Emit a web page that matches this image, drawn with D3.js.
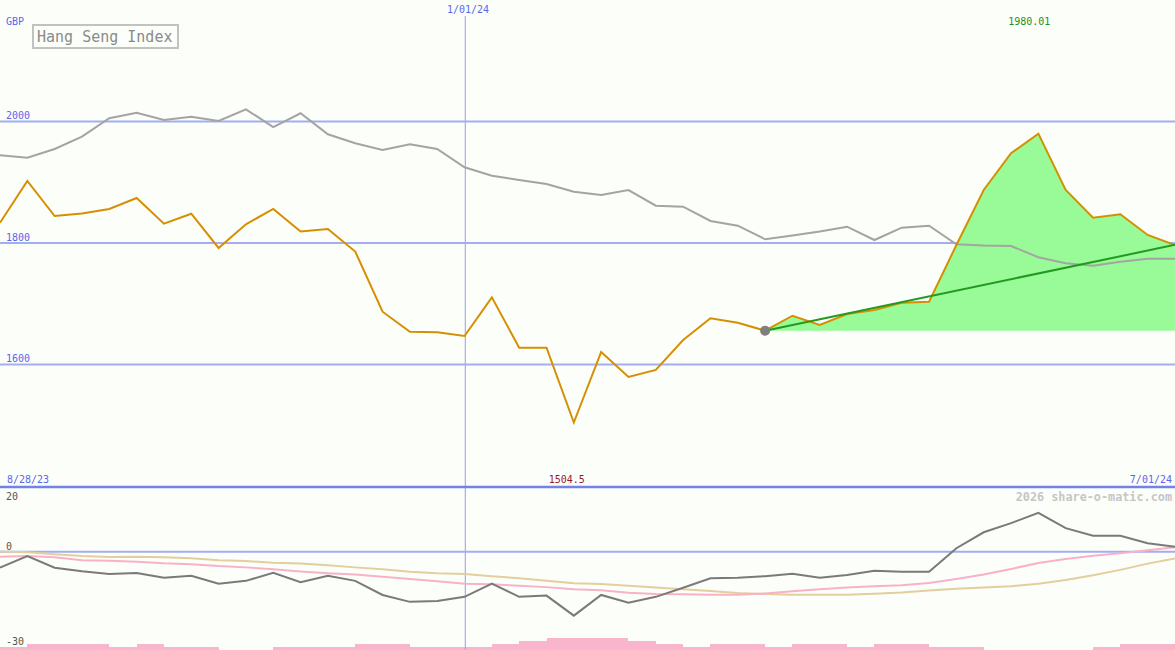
<!DOCTYPE html>
<html>
<head>
<meta charset="utf-8">
<script src="https://cdn.jsdelivr.net/npm/d3@7/dist/d3.min.js"></script>
<style>
  html, body { margin: 0; padding: 0; background: #fcfefa; }
  svg { display: block; }
  text { font-family: "DejaVu Sans Mono", "Liberation Mono", monospace; }
</style>
</head>
<body>
<svg id="chart" width="1175" height="650"></svg>
<script>
// ---------------- DATA ----------------
const title = "Hang Seng Index";
const currency = "GBP";
const dateLabels = [
  { i: 0, label: "8/28/23" },
  { i: 17, label: "1/01/24" },
  { i: 43, label: "7/01/24" }
];
const priceTicks = [1600, 1800, 2000];
const oscTickLabels = [20, 0, -30];
const copyright = "2026 share-o-matic.com";

// weekly closing price (orange)
const price = [1833.4,1902.1,1844.4,1848.6,1856,1874.1,1831.8,1848.2,1791.8,1830.8,
  1856,1818.9,1823,1786,1686.9,1654,1653,1646.9,1710.6,1627.7,
  1627.7,1504.5,1620.6,1579.4,1591,1640.3,1676,1668.8,1655.6,1680.3,
  1665,1683.1,1689.7,1701.7,1703.4,1796.7,1887.2,1947.7,1980.01,1887.2,
  1841.6,1847.2,1813.2,1796.7];

// comparison index, rebased (gray)
const benchmark = [1944.4,1940.4,1954.7,1975,2005.3,2014.5,2002.5,2007.9,2000.8,2020.1,
  1990.9,2013.5,1978.9,1964.1,1953.1,1962.5,1954.7,1924.6,1910.8,1903.7,
  1897.1,1884.4,1879,1887.2,1861.4,1859.8,1836.2,1828.5,1806.1,1812.3,
  1818.9,1826.8,1804.9,1825.2,1828.5,1797.9,1795.9,1795.1,1776.5,1766.6,
  1762.6,1769.2,1774.2,1774.2];

// trend segment (start index/value, end index/value)
const trendStartIndex = 28;
const trendEndIndex = 43;
const trendEndValue = 1797;

// lower panel: momentum (dark gray), fast MA (pink), slow MA (tan)
const momentum = [-5.1,-1.4,-5.1,-6.2,-7.1,-6.8,-8.3,-7.7,-10.2,-9.3,
  -6.7,-9.7,-7.7,-9.3,-13.8,-16.0,-15.7,-14.4,-10.2,-14.4,
  -14.0,-20.4,-13.8,-16.3,-14.4,-11.5,-8.5,-8.3,-7.8,-7.0,
  -8.3,-7.4,-6.1,-6.4,-6.4,1.1,6.2,9.1,12.4,7.5,
  5.1,5.1,2.7,1.6];
const fastMA = [-1.6,-1.4,-1.8,-2.7,-2.9,-3.2,-3.7,-4.0,-4.6,-5.0,
  -5.6,-6.3,-6.9,-7.3,-8.0,-8.7,-9.4,-10.2,-10.4,-10.9,
  -11.3,-12.0,-12.3,-13.1,-13.5,-13.6,-13.7,-13.7,-13.3,-12.6,
  -12.0,-11.4,-11.0,-10.7,-10.0,-8.7,-7.3,-5.5,-3.6,-2.3,
  -1.3,-0.5,0.5,1.4];
const slowMA = [0.1,-0.2,-0.8,-1.4,-1.7,-1.6,-1.8,-2.1,-2.7,-3.0,
  -3.5,-3.8,-4.3,-5.0,-5.6,-6.4,-6.9,-7.1,-7.8,-8.5,
  -9.3,-10.1,-10.3,-10.9,-11.4,-12.0,-12.5,-13.2,-13.5,-13.7,
  -13.7,-13.7,-13.4,-13.0,-12.4,-11.8,-11.4,-11.0,-10.2,-9.0,
  -7.5,-5.8,-3.8,-2.2];

// volume levels per weekly interval
const volume = [1,2,2,2,1,2,1,1,0,0,1,1,1,2,2,1,1,1,2,3,4,4,4,3,2,1,2,2,1,2,2,1,2,2,1,1,0,0,0,0,1,2,2];

// ---------------- CHART ----------------
const W = 1175, H = 650;
const svg = d3.select("#chart");

const x = d3.scaleLinear().domain([0, price.length - 1]).range([0, W]);
const y = d3.scaleLinear().domain([1600, 2000]).range([364.5, 121.5]);
const y2 = d3.scaleLinear().domain([-30, 20]).range([645.75, 489]);
const yv = d3.scaleLinear().domain([0, 4]).range([650, 638]);

svg.append("rect").attr("width", W).attr("height", H).attr("fill", "#fcfefa");

// volume bars
svg.append("g").selectAll("rect").data(volume).join("rect")
  .attr("x", (d, i) => x(i))
  .attr("width", (d, i) => x(i + 1) - x(i))
  .attr("y", d => yv(d))
  .attr("height", d => yv(0) - yv(d))
  .attr("fill", "#f9b5cb")
  .attr("shape-rendering", "crispEdges");

// horizontal price grid lines
svg.append("g").selectAll("line").data(priceTicks).join("line")
  .attr("x1", 0).attr("x2", W)
  .attr("y1", d => y(d)).attr("y2", d => y(d))
  .attr("stroke", "#a3adf0").attr("stroke-width", 2);

svg.append("g").selectAll("text").data(priceTicks).join("text")
  .attr("x", 6).attr("y", d => y(d) - 2.5)
  .attr("font-size", 10).attr("fill", "#5a66ee")
  .text(d => d);

// vertical date line (1/01/24)
const midDate = dateLabels[1];
svg.append("line")
  .attr("x1", x(midDate.i) + 0.8).attr("x2", x(midDate.i) + 0.8)
  .attr("y1", 16).attr("y2", H)
  .attr("stroke", "#a3adf0").attr("stroke-width", 1.2);

// lower panel zero line
svg.append("line")
  .attr("x1", 0).attr("x2", W)
  .attr("y1", y2(0)).attr("y2", y2(0))
  .attr("stroke", "#a3adf0").attr("stroke-width", 2);

// separator line between panels
svg.append("line")
  .attr("x1", 0).attr("x2", W)
  .attr("y1", 487).attr("y2", 487)
  .attr("stroke", "#7282e6").attr("stroke-width", 2.5);

// green gain area from trend start
const baseVal = price[trendStartIndex];
const areaIdx = d3.range(trendStartIndex, price.length);
svg.append("path")
  .datum(areaIdx)
  .attr("d", d3.area().x(i => x(i)).y0(y(baseVal)).y1(i => y(price[i])))
  .attr("fill", "#98fb98");

// benchmark gray line
svg.append("path")
  .datum(benchmark)
  .attr("d", d3.line().x((d, i) => x(i)).y(d => y(d)))
  .attr("fill", "none").attr("stroke", "#a4a4a4").attr("stroke-width", 2);

// price line
svg.append("path")
  .datum(price)
  .attr("d", d3.line().x((d, i) => x(i)).y(d => y(d)))
  .attr("fill", "none").attr("stroke", "#d68f00").attr("stroke-width", 2);

// trend line
svg.append("line")
  .attr("x1", x(trendStartIndex)).attr("y1", y(baseVal))
  .attr("x2", x(trendEndIndex)).attr("y2", y(trendEndValue))
  .attr("stroke", "#229a22").attr("stroke-width", 2);

// start marker
svg.append("circle")
  .attr("cx", x(trendStartIndex)).attr("cy", y(baseVal))
  .attr("r", 5).attr("fill", "#7f7f7f");

// lower panel lines
const line2 = d3.line().x((d, i) => x(i)).y(d => y2(d));
svg.append("path").datum(slowMA).attr("d", line2)
  .attr("fill", "none").attr("stroke", "#e3cf9e").attr("stroke-width", 2);
svg.append("path").datum(fastMA).attr("d", line2)
  .attr("fill", "none").attr("stroke", "#f9b1c8").attr("stroke-width", 2);
svg.append("path").datum(momentum).attr("d", line2)
  .attr("fill", "none").attr("stroke", "#7a7a7a").attr("stroke-width", 2);

// oscillator labels
const oscY = { "20": 499.5, "0": y2(0) - 2.2, "-30": 645 };
svg.append("g").selectAll("text").data(oscTickLabels).join("text")
  .attr("x", 6).attr("y", d => oscY[String(d)])
  .attr("font-size", 10).attr("fill", "#555555")
  .text(d => String(d));

// currency label
svg.append("text").attr("x", 6).attr("y", 25)
  .attr("font-size", 10).attr("fill", "#5a66ee").text(currency);

// title box
svg.append("rect")
  .attr("x", 33).attr("y", 25).attr("width", 145).attr("height", 23)
  .attr("fill", "#fcfefa").attr("stroke", "#c2c2c2").attr("stroke-width", 2);
svg.append("text").attr("x", 37).attr("y", 41.5)
  .attr("font-size", 15).attr("fill", "#8a8a8a").text(title);

// date labels
svg.append("text").attr("x", x(midDate.i) + 3.5).attr("y", 13.3)
  .attr("text-anchor", "middle").attr("font-size", 10).attr("fill", "#5a66ee")
  .text(midDate.label);
svg.append("text").attr("x", x(dateLabels[0].i) + 7).attr("y", 483)
  .attr("font-size", 10).attr("fill", "#5a66ee").text(dateLabels[0].label);
svg.append("text").attr("x", x(dateLabels[2].i) - 3).attr("y", 483)
  .attr("text-anchor", "end").attr("font-size", 10).attr("fill", "#5a66ee")
  .text(dateLabels[2].label);

// max / min labels
const maxI = d3.maxIndex(price), minI = d3.minIndex(price);
svg.append("text").attr("x", x(maxI) + 12).attr("y", 25)
  .attr("text-anchor", "end").attr("font-size", 10).attr("fill", "#1f8f1f")
  .text(price[maxI].toFixed(2));
svg.append("text").attr("x", x(minI) + 11).attr("y", 483)
  .attr("text-anchor", "end").attr("font-size", 10).attr("fill", "#a01818")
  .text(String(price[minI]));

// copyright
svg.append("text").attr("x", 1172).attr("y", 500.5)
  .attr("text-anchor", "end").attr("font-size", 11.8).attr("font-weight", "bold")
  .attr("fill", "#c6c6c6").text(copyright);
</script>
</body>
</html>
